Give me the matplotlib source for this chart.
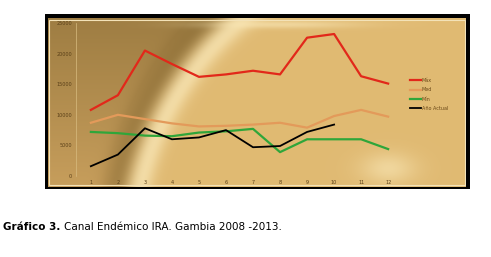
import numpy as np
import matplotlib
matplotlib.use("Agg")
import matplotlib.pyplot as plt
from matplotlib.patches import Rectangle

# meses
meses = list(range(1, 13))
maximo = [10800, 13200, 20500, 18300, 16200, 16600, 17200, 16600, 22600, 23200, 16300, 15100]
mediana = [8700, 10000, 9300, 8600, 8100, 8200, 8400, 8700, 7900, 9800, 10800, 9700]
minimo = [7200, 7000, 6600, 6500, 7100, 7300, 7700, 3900, 6000, 6000, 6000, 4400]
actual = [1600, 3500, 7800, 6000, 6300, 7500, 4700, 4900, 7200, 8400]
nombres = ["Máx", "Med", "Mín", "Año Actual"]
yticks = [0, 5000, 10000, 15000, 20000, 25000]

fig = plt.figure(figsize=(4.91, 2.57), dpi=100)
W, H = 491, 257

def fig_rect(x0, y0, x1, y1):
    return [x0 / W, 1 - y1 / H, (x1 - x0) / W, (y1 - y0) / H]

# marco negro
black = fig.add_axes(fig_rect(45, 14, 470, 189))
black.set_axis_off()
black.add_patch(Rectangle((0, 0), 1, 1, transform=black.transAxes, color="black"))

# fondo dorado con arco claro / oscuro
bg = fig.add_axes(fig_rect(48, 18, 466, 187))
bg.set_axis_off()
pw, ph = 418, 169
yy, xx = np.mgrid[0:ph, 0:pw].astype(float)
r = np.hypot(xx - 384, yy - 232)
v = (yy / ph)[..., None]
left_c = np.array([0.62, 0.49, 0.26]) * (1 - v) + np.array([0.78, 0.62, 0.36]) * v
right_c = np.array([0.88, 0.73, 0.45])
dark = np.array([0.45, 0.34, 0.14])
light = np.array([0.98, 0.91, 0.72])
t = np.clip((r - 295) / 40, 0, 1)[..., None]
img = right_c * (1 - t) + left_c * t
d = np.exp(-((r - 322) / 14) ** 2)[..., None]
b = np.exp(-((r - 299) / 12) ** 2)[..., None]
img = img * (1 - d * 0.45) + dark * d * 0.45
img = img * (1 - b * 0.75) + light * b * 0.75
# franja clara arriba y mancha clara abajo a la derecha
top = (np.exp(-((yy - 6) / 4) ** 2) * np.exp(-((xx - 230) / 80) ** 2))[..., None]
img = img * (1 - top * 0.6) + light * top * 0.6
spot = (np.exp(-((yy - 150) / 16) ** 2) * np.exp(-((xx - 340) / 28) ** 2))[..., None]
img = img * (1 - spot * 0.6) + light * spot * 0.6
img = np.clip(img, 0, 1)
bg.imshow(img, extent=[0, 1, 0, 1], aspect="auto", origin="upper")
bg.add_patch(Rectangle((0.003, 0.01), 0.994, 0.98, transform=bg.transAxes, fill=False,
                       edgecolor="#f3e2b8", linewidth=0.8))

ax = fig.add_axes(fig_rect(76, 23, 403, 176))
ax.set_facecolor("none")
ax.plot(meses, maximo, color="#e2281a", lw=1.6, label=nombres[0])
ax.plot(meses, mediana, color="#e39a5a", lw=1.6, label=nombres[1])
ax.plot(meses, minimo, color="#2fa63a", lw=1.6, label=nombres[2])
ax.plot(meses[:len(actual)], actual, color="black", lw=1.3, label=nombres[3])
ax.set_xlim(0.45, 12.55)
ax.set_ylim(0, 25000)
ax.set_xticks(meses)
ax.set_yticks(yticks)
ax.tick_params(labelsize=3.5, length=0, colors="#5a4018", pad=3)
for s in ax.spines.values():
    s.set_visible(False)
ax.spines["left"].set_visible(True)
ax.spines["left"].set_color("#d8bc80")
ax.spines["left"].set_linewidth(0.5)

fig.legend(loc="upper left", bbox_to_anchor=(408 / W, 1 - 76 / H), frameon=False,
           fontsize=3.5, handlelength=2.2, labelspacing=0.9, labelcolor="#6a4818",
           handletextpad=0.2, borderaxespad=0)

fig.text(3 / W, 1 - 227 / H, "Gráfico 3.", fontsize=7.5, fontweight="bold",
         va="center", ha="left", family="DejaVu Sans")
fig.text(64 / W, 1 - 227 / H, "Canal Endémico IRA. Gambia 2008 -2013.", fontsize=7.5,
         va="center", ha="left", family="DejaVu Sans")

fig.savefig("out.png", dpi=100, facecolor="white")
